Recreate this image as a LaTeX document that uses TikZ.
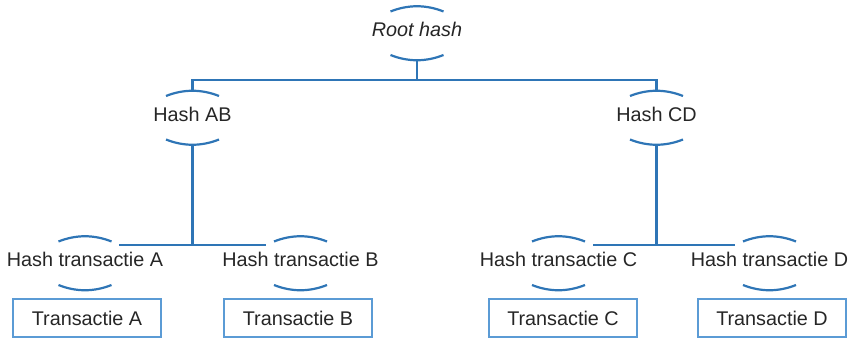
\documentclass[tikz,border=0pt]{standalone}
\usepackage{fontspec}
\setmainfont{Liberation Sans}
\definecolor{lineblue}{RGB}{46,117,182}
\definecolor{boxblue}{RGB}{91,155,213}
\definecolor{txt}{RGB}{38,38,38}
\newcommand\brkpair[1]{%
 \draw[brkline] ([shift={(-26.5,-18)}]#1.center) .. controls ([shift={(-9,-25)}]#1.center) and ([shift={(9,-25)}]#1.center) .. ([shift={(26.5,-18)}]#1.center);
 \draw[brkline] ([shift={(-26.5,25.5)}]#1.center) .. controls ([shift={(-9,32.5)}]#1.center) and ([shift={(9,32.5)}]#1.center) .. ([shift={(26.5,25.5)}]#1.center);
 \coordinate (#1-t) at ([shift={(0,-23.5)}]#1.center);
 \coordinate (#1-b) at ([shift={(0,30.5)}]#1.center);
}
\begin{document}
\begin{tikzpicture}[x=1pt,y=-1pt,
  lbl/.style={inner sep=0pt, text=txt, font=\fontsize{19.8}{22}\selectfont},
  conn/.style={draw=lineblue, line width=2.2pt},
  brkline/.style={draw=lineblue, line width=2.2pt},
  txbox/.style={draw=boxblue, line width=1.6pt, minimum width=148pt, minimum height=38pt, inner sep=0pt, text=txt, font=\fontsize{19.8}{22}\selectfont}]
\useasboundingbox (0,0) rectangle (852,338);
% hash nodes
\node[lbl] (root) at (417,29.5) {\itshape Root hash};
\node[lbl] (ab) at (192.5,114) {Hash AB};
\node[lbl] (cd) at (656.5,114) {Hash CD};
\node[lbl] (ha) at (85,259.5) {Hash transactie A};
\node[lbl] (hb) at (300.5,259.5) {Hash transactie B};
\node[lbl] (hc) at (558.5,259.5) {Hash transactie C};
\node[lbl] (hd) at (769.5,259.5) {Hash transactie D};
\brkpair{root}
\brkpair{ab}
\brkpair{cd}
\brkpair{ha}
\brkpair{hb}
\brkpair{hc}
\brkpair{hd}
% transaction boxes
\node[txbox] (ta) at (87,318) {Transactie A};
\node[txbox] (tb) at (298,318) {Transactie B};
\node[txbox] (tc) at (563,318) {Transactie C};
\node[txbox] (td) at (772,318) {Transactie D};
% connectors
\coordinate (bus) at (417,80);
\draw[conn] (root-b) -- (bus);
\draw[conn] (ab-t) |- (bus) -| (cd-t);
\coordinate (busab) at (192.5,245);
\coordinate (la) at (119,245);
\coordinate (lb) at (266,245);
\draw[conn] (ab-b) -- (busab);
\draw[conn] (la) -- (lb);
\coordinate (buscd) at (656.5,245);
\coordinate (lc) at (593,245);
\coordinate (ld) at (735,245);
\draw[conn] (cd-b) -- (buscd);
\draw[conn] (lc) -- (ld);
\end{tikzpicture}
\end{document}
